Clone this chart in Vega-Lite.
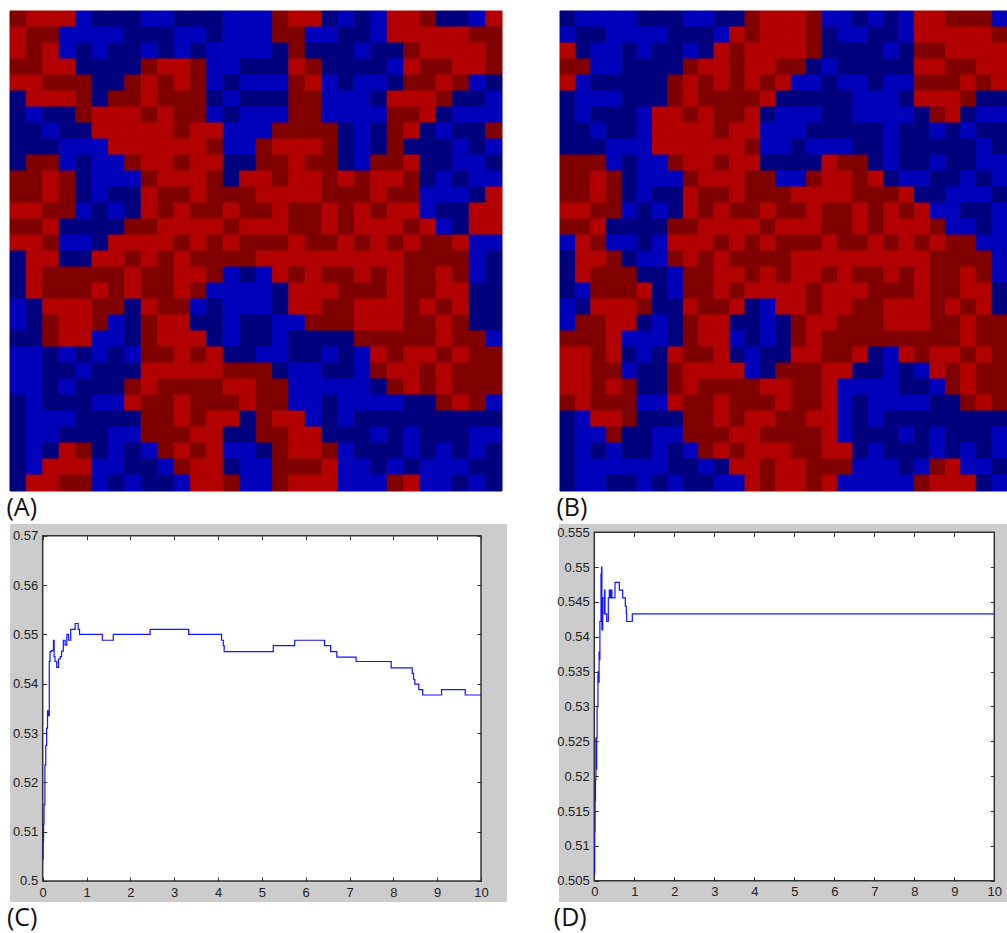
{"$schema":"https://vega.github.io/schema/vega-lite/v6.json","background":"white","padding":{"left":6,"top":10,"right":0,"bottom":0},"config":{"view":{"stroke":null},"concat":{"spacing":0},"title":{"font":"Open Sans","fontSize":25,"fontWeight":"normal","color":"#111","anchor":"start","orient":"bottom"}},"vconcat":[{"hconcat":[{"title":{"text":"(A)","dx":-3,"offset":4},"width":492,"height":480,"data":{"values":[
{"c":0,"r":0,"v":2},{"c":1,"r":0,"v":3},{"c":2,"r":0,"v":3},{"c":3,"r":0,"v":3},{"c":4,"r":0,"v":1},{"c":5,"r":0,"v":0},{"c":6,"r":0,"v":0},{"c":7,"r":0,"v":0},{"c":8,"r":0,"v":1},{"c":9,"r":0,"v":1},{"c":10,"r":0,"v":0},{"c":11,"r":0,"v":0},{"c":12,"r":0,"v":0},{"c":13,"r":0,"v":1},{"c":14,"r":0,"v":1},{"c":15,"r":0,"v":1},{"c":16,"r":0,"v":2},{"c":17,"r":0,"v":3},{"c":18,"r":0,"v":3},{"c":19,"r":0,"v":0},{"c":20,"r":0,"v":1},{"c":21,"r":0,"v":0},{"c":22,"r":0,"v":1},{"c":23,"r":0,"v":3},{"c":24,"r":0,"v":3},{"c":25,"r":0,"v":2},{"c":26,"r":0,"v":0},{"c":27,"r":0,"v":0},{"c":28,"r":0,"v":1},{"c":29,"r":0,"v":3},
{"c":0,"r":1,"v":3},{"c":1,"r":1,"v":2},{"c":2,"r":1,"v":2},{"c":3,"r":1,"v":1},{"c":4,"r":1,"v":1},{"c":5,"r":1,"v":1},{"c":6,"r":1,"v":1},{"c":7,"r":1,"v":0},{"c":8,"r":1,"v":0},{"c":9,"r":1,"v":0},{"c":10,"r":1,"v":1},{"c":11,"r":1,"v":1},{"c":12,"r":1,"v":0},{"c":13,"r":1,"v":1},{"c":14,"r":1,"v":1},{"c":15,"r":1,"v":1},{"c":16,"r":1,"v":2},{"c":17,"r":1,"v":2},{"c":18,"r":1,"v":1},{"c":19,"r":1,"v":1},{"c":20,"r":1,"v":0},{"c":21,"r":1,"v":0},{"c":22,"r":1,"v":1},{"c":23,"r":1,"v":3},{"c":24,"r":1,"v":3},{"c":25,"r":1,"v":3},{"c":26,"r":1,"v":3},{"c":27,"r":1,"v":3},{"c":28,"r":1,"v":2},{"c":29,"r":1,"v":2},
{"c":0,"r":2,"v":3},{"c":1,"r":2,"v":2},{"c":2,"r":2,"v":3},{"c":3,"r":2,"v":1},{"c":4,"r":2,"v":0},{"c":5,"r":2,"v":1},{"c":6,"r":2,"v":0},{"c":7,"r":2,"v":0},{"c":8,"r":2,"v":1},{"c":9,"r":2,"v":0},{"c":10,"r":2,"v":1},{"c":11,"r":2,"v":0},{"c":12,"r":2,"v":1},{"c":13,"r":2,"v":1},{"c":14,"r":2,"v":1},{"c":15,"r":2,"v":1},{"c":16,"r":2,"v":0},{"c":17,"r":2,"v":2},{"c":18,"r":2,"v":0},{"c":19,"r":2,"v":0},{"c":20,"r":2,"v":0},{"c":21,"r":2,"v":1},{"c":22,"r":2,"v":0},{"c":23,"r":2,"v":0},{"c":24,"r":2,"v":2},{"c":25,"r":2,"v":3},{"c":26,"r":2,"v":3},{"c":27,"r":2,"v":3},{"c":28,"r":2,"v":3},{"c":29,"r":2,"v":2},
{"c":0,"r":3,"v":2},{"c":1,"r":3,"v":2},{"c":2,"r":3,"v":3},{"c":3,"r":3,"v":3},{"c":4,"r":3,"v":0},{"c":5,"r":3,"v":0},{"c":6,"r":3,"v":0},{"c":7,"r":3,"v":0},{"c":8,"r":3,"v":2},{"c":9,"r":3,"v":3},{"c":10,"r":3,"v":3},{"c":11,"r":3,"v":2},{"c":12,"r":3,"v":1},{"c":13,"r":3,"v":1},{"c":14,"r":3,"v":0},{"c":15,"r":3,"v":0},{"c":16,"r":3,"v":0},{"c":17,"r":3,"v":3},{"c":18,"r":3,"v":2},{"c":19,"r":3,"v":0},{"c":20,"r":3,"v":0},{"c":21,"r":3,"v":0},{"c":22,"r":3,"v":0},{"c":23,"r":3,"v":1},{"c":24,"r":3,"v":3},{"c":25,"r":3,"v":2},{"c":26,"r":3,"v":2},{"c":27,"r":3,"v":3},{"c":28,"r":3,"v":3},{"c":29,"r":3,"v":2},
{"c":0,"r":4,"v":3},{"c":1,"r":4,"v":3},{"c":2,"r":4,"v":2},{"c":3,"r":4,"v":2},{"c":4,"r":4,"v":2},{"c":5,"r":4,"v":0},{"c":6,"r":4,"v":0},{"c":7,"r":4,"v":2},{"c":8,"r":4,"v":3},{"c":9,"r":4,"v":2},{"c":10,"r":4,"v":3},{"c":11,"r":4,"v":2},{"c":12,"r":4,"v":1},{"c":13,"r":4,"v":0},{"c":14,"r":4,"v":1},{"c":15,"r":4,"v":1},{"c":16,"r":4,"v":1},{"c":17,"r":4,"v":2},{"c":18,"r":4,"v":3},{"c":19,"r":4,"v":1},{"c":20,"r":4,"v":0},{"c":21,"r":4,"v":1},{"c":22,"r":4,"v":1},{"c":23,"r":4,"v":0},{"c":24,"r":4,"v":2},{"c":25,"r":4,"v":2},{"c":26,"r":4,"v":3},{"c":27,"r":4,"v":2},{"c":28,"r":4,"v":1},{"c":29,"r":4,"v":0},
{"c":0,"r":5,"v":0},{"c":1,"r":5,"v":3},{"c":2,"r":5,"v":3},{"c":3,"r":5,"v":3},{"c":4,"r":5,"v":2},{"c":5,"r":5,"v":0},{"c":6,"r":5,"v":2},{"c":7,"r":5,"v":2},{"c":8,"r":5,"v":3},{"c":9,"r":5,"v":2},{"c":10,"r":5,"v":2},{"c":11,"r":5,"v":2},{"c":12,"r":5,"v":0},{"c":13,"r":5,"v":1},{"c":14,"r":5,"v":0},{"c":15,"r":5,"v":0},{"c":16,"r":5,"v":0},{"c":17,"r":5,"v":2},{"c":18,"r":5,"v":2},{"c":19,"r":5,"v":1},{"c":20,"r":5,"v":1},{"c":21,"r":5,"v":1},{"c":22,"r":5,"v":0},{"c":23,"r":5,"v":3},{"c":24,"r":5,"v":3},{"c":25,"r":5,"v":3},{"c":26,"r":5,"v":2},{"c":27,"r":5,"v":0},{"c":28,"r":5,"v":0},{"c":29,"r":5,"v":1},
{"c":0,"r":6,"v":0},{"c":1,"r":6,"v":1},{"c":2,"r":6,"v":0},{"c":3,"r":6,"v":0},{"c":4,"r":6,"v":2},{"c":5,"r":6,"v":3},{"c":6,"r":6,"v":3},{"c":7,"r":6,"v":3},{"c":8,"r":6,"v":2},{"c":9,"r":6,"v":3},{"c":10,"r":6,"v":2},{"c":11,"r":6,"v":2},{"c":12,"r":6,"v":1},{"c":13,"r":6,"v":0},{"c":14,"r":6,"v":1},{"c":15,"r":6,"v":1},{"c":16,"r":6,"v":1},{"c":17,"r":6,"v":2},{"c":18,"r":6,"v":2},{"c":19,"r":6,"v":1},{"c":20,"r":6,"v":1},{"c":21,"r":6,"v":1},{"c":22,"r":6,"v":1},{"c":23,"r":6,"v":2},{"c":24,"r":6,"v":2},{"c":25,"r":6,"v":3},{"c":26,"r":6,"v":0},{"c":27,"r":6,"v":1},{"c":28,"r":6,"v":1},{"c":29,"r":6,"v":1},
{"c":0,"r":7,"v":0},{"c":1,"r":7,"v":0},{"c":2,"r":7,"v":1},{"c":3,"r":7,"v":0},{"c":4,"r":7,"v":0},{"c":5,"r":7,"v":3},{"c":6,"r":7,"v":3},{"c":7,"r":7,"v":3},{"c":8,"r":7,"v":3},{"c":9,"r":7,"v":3},{"c":10,"r":7,"v":2},{"c":11,"r":7,"v":3},{"c":12,"r":7,"v":3},{"c":13,"r":7,"v":1},{"c":14,"r":7,"v":1},{"c":15,"r":7,"v":1},{"c":16,"r":7,"v":2},{"c":17,"r":7,"v":2},{"c":18,"r":7,"v":2},{"c":19,"r":7,"v":2},{"c":20,"r":7,"v":0},{"c":21,"r":7,"v":1},{"c":22,"r":7,"v":0},{"c":23,"r":7,"v":2},{"c":24,"r":7,"v":3},{"c":25,"r":7,"v":0},{"c":26,"r":7,"v":1},{"c":27,"r":7,"v":0},{"c":28,"r":7,"v":0},{"c":29,"r":7,"v":2},
{"c":0,"r":8,"v":0},{"c":1,"r":8,"v":0},{"c":2,"r":8,"v":0},{"c":3,"r":8,"v":1},{"c":4,"r":8,"v":1},{"c":5,"r":8,"v":1},{"c":6,"r":8,"v":3},{"c":7,"r":8,"v":3},{"c":8,"r":8,"v":3},{"c":9,"r":8,"v":3},{"c":10,"r":8,"v":3},{"c":11,"r":8,"v":3},{"c":12,"r":8,"v":2},{"c":13,"r":8,"v":1},{"c":14,"r":8,"v":1},{"c":15,"r":8,"v":2},{"c":16,"r":8,"v":3},{"c":17,"r":8,"v":3},{"c":18,"r":8,"v":3},{"c":19,"r":8,"v":2},{"c":20,"r":8,"v":0},{"c":21,"r":8,"v":1},{"c":22,"r":8,"v":0},{"c":23,"r":8,"v":2},{"c":24,"r":8,"v":0},{"c":25,"r":8,"v":0},{"c":26,"r":8,"v":0},{"c":27,"r":8,"v":1},{"c":28,"r":8,"v":0},{"c":29,"r":8,"v":1},
{"c":0,"r":9,"v":0},{"c":1,"r":9,"v":2},{"c":2,"r":9,"v":2},{"c":3,"r":9,"v":1},{"c":4,"r":9,"v":0},{"c":5,"r":9,"v":1},{"c":6,"r":9,"v":1},{"c":7,"r":9,"v":2},{"c":8,"r":9,"v":3},{"c":9,"r":9,"v":3},{"c":10,"r":9,"v":2},{"c":11,"r":9,"v":3},{"c":12,"r":9,"v":3},{"c":13,"r":9,"v":0},{"c":14,"r":9,"v":0},{"c":15,"r":9,"v":2},{"c":16,"r":9,"v":2},{"c":17,"r":9,"v":3},{"c":18,"r":9,"v":2},{"c":19,"r":9,"v":2},{"c":20,"r":9,"v":0},{"c":21,"r":9,"v":1},{"c":22,"r":9,"v":2},{"c":23,"r":9,"v":2},{"c":24,"r":9,"v":3},{"c":25,"r":9,"v":0},{"c":26,"r":9,"v":0},{"c":27,"r":9,"v":1},{"c":28,"r":9,"v":1},{"c":29,"r":9,"v":0},
{"c":0,"r":10,"v":2},{"c":1,"r":10,"v":2},{"c":2,"r":10,"v":3},{"c":3,"r":10,"v":2},{"c":4,"r":10,"v":0},{"c":5,"r":10,"v":1},{"c":6,"r":10,"v":1},{"c":7,"r":10,"v":1},{"c":8,"r":10,"v":2},{"c":9,"r":10,"v":3},{"c":10,"r":10,"v":3},{"c":11,"r":10,"v":3},{"c":12,"r":10,"v":2},{"c":13,"r":10,"v":0},{"c":14,"r":10,"v":3},{"c":15,"r":10,"v":3},{"c":16,"r":10,"v":2},{"c":17,"r":10,"v":3},{"c":18,"r":10,"v":3},{"c":19,"r":10,"v":2},{"c":20,"r":10,"v":3},{"c":21,"r":10,"v":2},{"c":22,"r":10,"v":3},{"c":23,"r":10,"v":3},{"c":24,"r":10,"v":2},{"c":25,"r":10,"v":0},{"c":26,"r":10,"v":1},{"c":27,"r":10,"v":0},{"c":28,"r":10,"v":1},{"c":29,"r":10,"v":1},
{"c":0,"r":11,"v":2},{"c":1,"r":11,"v":2},{"c":2,"r":11,"v":3},{"c":3,"r":11,"v":2},{"c":4,"r":11,"v":0},{"c":5,"r":11,"v":1},{"c":6,"r":11,"v":0},{"c":7,"r":11,"v":0},{"c":8,"r":11,"v":3},{"c":9,"r":11,"v":2},{"c":10,"r":11,"v":2},{"c":11,"r":11,"v":3},{"c":12,"r":11,"v":2},{"c":13,"r":11,"v":2},{"c":14,"r":11,"v":2},{"c":15,"r":11,"v":3},{"c":16,"r":11,"v":3},{"c":17,"r":11,"v":3},{"c":18,"r":11,"v":3},{"c":19,"r":11,"v":2},{"c":20,"r":11,"v":2},{"c":21,"r":11,"v":2},{"c":22,"r":11,"v":3},{"c":23,"r":11,"v":2},{"c":24,"r":11,"v":2},{"c":25,"r":11,"v":1},{"c":26,"r":11,"v":1},{"c":27,"r":11,"v":1},{"c":28,"r":11,"v":0},{"c":29,"r":11,"v":3},
{"c":0,"r":12,"v":3},{"c":1,"r":12,"v":3},{"c":2,"r":12,"v":2},{"c":3,"r":12,"v":2},{"c":4,"r":12,"v":1},{"c":5,"r":12,"v":0},{"c":6,"r":12,"v":1},{"c":7,"r":12,"v":0},{"c":8,"r":12,"v":3},{"c":9,"r":12,"v":2},{"c":10,"r":12,"v":3},{"c":11,"r":12,"v":2},{"c":12,"r":12,"v":2},{"c":13,"r":12,"v":3},{"c":14,"r":12,"v":2},{"c":15,"r":12,"v":2},{"c":16,"r":12,"v":3},{"c":17,"r":12,"v":2},{"c":18,"r":12,"v":2},{"c":19,"r":12,"v":3},{"c":20,"r":12,"v":2},{"c":21,"r":12,"v":3},{"c":22,"r":12,"v":2},{"c":23,"r":12,"v":3},{"c":24,"r":12,"v":3},{"c":25,"r":12,"v":1},{"c":26,"r":12,"v":0},{"c":27,"r":12,"v":0},{"c":28,"r":12,"v":3},{"c":29,"r":12,"v":3},
{"c":0,"r":13,"v":2},{"c":1,"r":13,"v":2},{"c":2,"r":13,"v":3},{"c":3,"r":13,"v":0},{"c":4,"r":13,"v":0},{"c":5,"r":13,"v":0},{"c":6,"r":13,"v":0},{"c":7,"r":13,"v":2},{"c":8,"r":13,"v":2},{"c":9,"r":13,"v":3},{"c":10,"r":13,"v":3},{"c":11,"r":13,"v":3},{"c":12,"r":13,"v":3},{"c":13,"r":13,"v":2},{"c":14,"r":13,"v":3},{"c":15,"r":13,"v":3},{"c":16,"r":13,"v":3},{"c":17,"r":13,"v":2},{"c":18,"r":13,"v":2},{"c":19,"r":13,"v":3},{"c":20,"r":13,"v":2},{"c":21,"r":13,"v":3},{"c":22,"r":13,"v":3},{"c":23,"r":13,"v":3},{"c":24,"r":13,"v":2},{"c":25,"r":13,"v":3},{"c":26,"r":13,"v":1},{"c":27,"r":13,"v":0},{"c":28,"r":13,"v":3},{"c":29,"r":13,"v":3},
{"c":0,"r":14,"v":3},{"c":1,"r":14,"v":3},{"c":2,"r":14,"v":2},{"c":3,"r":14,"v":1},{"c":4,"r":14,"v":1},{"c":5,"r":14,"v":0},{"c":6,"r":14,"v":3},{"c":7,"r":14,"v":3},{"c":8,"r":14,"v":3},{"c":9,"r":14,"v":3},{"c":10,"r":14,"v":2},{"c":11,"r":14,"v":3},{"c":12,"r":14,"v":2},{"c":13,"r":14,"v":3},{"c":14,"r":14,"v":2},{"c":15,"r":14,"v":2},{"c":16,"r":14,"v":2},{"c":17,"r":14,"v":3},{"c":18,"r":14,"v":2},{"c":19,"r":14,"v":2},{"c":20,"r":14,"v":3},{"c":21,"r":14,"v":2},{"c":22,"r":14,"v":3},{"c":23,"r":14,"v":2},{"c":24,"r":14,"v":3},{"c":25,"r":14,"v":2},{"c":26,"r":14,"v":2},{"c":27,"r":14,"v":3},{"c":28,"r":14,"v":1},{"c":29,"r":14,"v":1},
{"c":0,"r":15,"v":0},{"c":1,"r":15,"v":3},{"c":2,"r":15,"v":3},{"c":3,"r":15,"v":0},{"c":4,"r":15,"v":0},{"c":5,"r":15,"v":3},{"c":6,"r":15,"v":3},{"c":7,"r":15,"v":2},{"c":8,"r":15,"v":3},{"c":9,"r":15,"v":2},{"c":10,"r":15,"v":3},{"c":11,"r":15,"v":2},{"c":12,"r":15,"v":2},{"c":13,"r":15,"v":2},{"c":14,"r":15,"v":2},{"c":15,"r":15,"v":3},{"c":16,"r":15,"v":3},{"c":17,"r":15,"v":3},{"c":18,"r":15,"v":3},{"c":19,"r":15,"v":3},{"c":20,"r":15,"v":3},{"c":21,"r":15,"v":3},{"c":22,"r":15,"v":3},{"c":23,"r":15,"v":3},{"c":24,"r":15,"v":2},{"c":25,"r":15,"v":2},{"c":26,"r":15,"v":2},{"c":27,"r":15,"v":2},{"c":28,"r":15,"v":1},{"c":29,"r":15,"v":0},
{"c":0,"r":16,"v":0},{"c":1,"r":16,"v":3},{"c":2,"r":16,"v":2},{"c":3,"r":16,"v":2},{"c":4,"r":16,"v":2},{"c":5,"r":16,"v":2},{"c":6,"r":16,"v":2},{"c":7,"r":16,"v":3},{"c":8,"r":16,"v":2},{"c":9,"r":16,"v":2},{"c":10,"r":16,"v":3},{"c":11,"r":16,"v":3},{"c":12,"r":16,"v":2},{"c":13,"r":16,"v":1},{"c":14,"r":16,"v":0},{"c":15,"r":16,"v":1},{"c":16,"r":16,"v":3},{"c":17,"r":16,"v":2},{"c":18,"r":16,"v":3},{"c":19,"r":16,"v":2},{"c":20,"r":16,"v":2},{"c":21,"r":16,"v":3},{"c":22,"r":16,"v":2},{"c":23,"r":16,"v":3},{"c":24,"r":16,"v":2},{"c":25,"r":16,"v":2},{"c":26,"r":16,"v":3},{"c":27,"r":16,"v":2},{"c":28,"r":16,"v":1},{"c":29,"r":16,"v":0},
{"c":0,"r":17,"v":0},{"c":1,"r":17,"v":3},{"c":2,"r":17,"v":2},{"c":3,"r":17,"v":2},{"c":4,"r":17,"v":2},{"c":5,"r":17,"v":3},{"c":6,"r":17,"v":2},{"c":7,"r":17,"v":3},{"c":8,"r":17,"v":2},{"c":9,"r":17,"v":2},{"c":10,"r":17,"v":3},{"c":11,"r":17,"v":2},{"c":12,"r":17,"v":1},{"c":13,"r":17,"v":1},{"c":14,"r":17,"v":1},{"c":15,"r":17,"v":1},{"c":16,"r":17,"v":0},{"c":17,"r":17,"v":3},{"c":18,"r":17,"v":3},{"c":19,"r":17,"v":3},{"c":20,"r":17,"v":2},{"c":21,"r":17,"v":2},{"c":22,"r":17,"v":2},{"c":23,"r":17,"v":3},{"c":24,"r":17,"v":2},{"c":25,"r":17,"v":2},{"c":26,"r":17,"v":3},{"c":27,"r":17,"v":3},{"c":28,"r":17,"v":0},{"c":29,"r":17,"v":0},
{"c":0,"r":18,"v":1},{"c":1,"r":18,"v":0},{"c":2,"r":18,"v":3},{"c":3,"r":18,"v":3},{"c":4,"r":18,"v":3},{"c":5,"r":18,"v":2},{"c":6,"r":18,"v":2},{"c":7,"r":18,"v":0},{"c":8,"r":18,"v":3},{"c":9,"r":18,"v":2},{"c":10,"r":18,"v":2},{"c":11,"r":18,"v":1},{"c":12,"r":18,"v":0},{"c":13,"r":18,"v":1},{"c":14,"r":18,"v":1},{"c":15,"r":18,"v":1},{"c":16,"r":18,"v":0},{"c":17,"r":18,"v":3},{"c":18,"r":18,"v":3},{"c":19,"r":18,"v":2},{"c":20,"r":18,"v":2},{"c":21,"r":18,"v":3},{"c":22,"r":18,"v":3},{"c":23,"r":18,"v":3},{"c":24,"r":18,"v":2},{"c":25,"r":18,"v":3},{"c":26,"r":18,"v":2},{"c":27,"r":18,"v":3},{"c":28,"r":18,"v":0},{"c":29,"r":18,"v":0},
{"c":0,"r":19,"v":1},{"c":1,"r":19,"v":0},{"c":2,"r":19,"v":2},{"c":3,"r":19,"v":3},{"c":4,"r":19,"v":3},{"c":5,"r":19,"v":2},{"c":6,"r":19,"v":1},{"c":7,"r":19,"v":0},{"c":8,"r":19,"v":2},{"c":9,"r":19,"v":3},{"c":10,"r":19,"v":3},{"c":11,"r":19,"v":0},{"c":12,"r":19,"v":0},{"c":13,"r":19,"v":1},{"c":14,"r":19,"v":0},{"c":15,"r":19,"v":0},{"c":16,"r":19,"v":1},{"c":17,"r":19,"v":1},{"c":18,"r":19,"v":2},{"c":19,"r":19,"v":2},{"c":20,"r":19,"v":2},{"c":21,"r":19,"v":3},{"c":22,"r":19,"v":3},{"c":23,"r":19,"v":3},{"c":24,"r":19,"v":2},{"c":25,"r":19,"v":2},{"c":26,"r":19,"v":3},{"c":27,"r":19,"v":2},{"c":28,"r":19,"v":0},{"c":29,"r":19,"v":0},
{"c":0,"r":20,"v":0},{"c":1,"r":20,"v":0},{"c":2,"r":20,"v":2},{"c":3,"r":20,"v":3},{"c":4,"r":20,"v":3},{"c":5,"r":20,"v":1},{"c":6,"r":20,"v":1},{"c":7,"r":20,"v":0},{"c":8,"r":20,"v":2},{"c":9,"r":20,"v":3},{"c":10,"r":20,"v":3},{"c":11,"r":20,"v":3},{"c":12,"r":20,"v":0},{"c":13,"r":20,"v":1},{"c":14,"r":20,"v":0},{"c":15,"r":20,"v":0},{"c":16,"r":20,"v":1},{"c":17,"r":20,"v":0},{"c":18,"r":20,"v":0},{"c":19,"r":20,"v":0},{"c":20,"r":20,"v":0},{"c":21,"r":20,"v":2},{"c":22,"r":20,"v":2},{"c":23,"r":20,"v":2},{"c":24,"r":20,"v":2},{"c":25,"r":20,"v":2},{"c":26,"r":20,"v":3},{"c":27,"r":20,"v":2},{"c":28,"r":20,"v":2},{"c":29,"r":20,"v":1},
{"c":0,"r":21,"v":1},{"c":1,"r":21,"v":1},{"c":2,"r":21,"v":0},{"c":3,"r":21,"v":1},{"c":4,"r":21,"v":0},{"c":5,"r":21,"v":1},{"c":6,"r":21,"v":0},{"c":7,"r":21,"v":1},{"c":8,"r":21,"v":2},{"c":9,"r":21,"v":2},{"c":10,"r":21,"v":3},{"c":11,"r":21,"v":2},{"c":12,"r":21,"v":3},{"c":13,"r":21,"v":0},{"c":14,"r":21,"v":0},{"c":15,"r":21,"v":1},{"c":16,"r":21,"v":1},{"c":17,"r":21,"v":0},{"c":18,"r":21,"v":0},{"c":19,"r":21,"v":1},{"c":20,"r":21,"v":0},{"c":21,"r":21,"v":1},{"c":22,"r":21,"v":3},{"c":23,"r":21,"v":2},{"c":24,"r":21,"v":3},{"c":25,"r":21,"v":3},{"c":26,"r":21,"v":2},{"c":27,"r":21,"v":3},{"c":28,"r":21,"v":2},{"c":29,"r":21,"v":2},
{"c":0,"r":22,"v":1},{"c":1,"r":22,"v":1},{"c":2,"r":22,"v":0},{"c":3,"r":22,"v":0},{"c":4,"r":22,"v":1},{"c":5,"r":22,"v":0},{"c":6,"r":22,"v":0},{"c":7,"r":22,"v":0},{"c":8,"r":22,"v":3},{"c":9,"r":22,"v":3},{"c":10,"r":22,"v":3},{"c":11,"r":22,"v":3},{"c":12,"r":22,"v":3},{"c":13,"r":22,"v":2},{"c":14,"r":22,"v":2},{"c":15,"r":22,"v":2},{"c":16,"r":22,"v":0},{"c":17,"r":22,"v":1},{"c":18,"r":22,"v":1},{"c":19,"r":22,"v":0},{"c":20,"r":22,"v":0},{"c":21,"r":22,"v":1},{"c":22,"r":22,"v":2},{"c":23,"r":22,"v":3},{"c":24,"r":22,"v":3},{"c":25,"r":22,"v":2},{"c":26,"r":22,"v":3},{"c":27,"r":22,"v":2},{"c":28,"r":22,"v":2},{"c":29,"r":22,"v":2},
{"c":0,"r":23,"v":1},{"c":1,"r":23,"v":1},{"c":2,"r":23,"v":0},{"c":3,"r":23,"v":1},{"c":4,"r":23,"v":0},{"c":5,"r":23,"v":0},{"c":6,"r":23,"v":0},{"c":7,"r":23,"v":2},{"c":8,"r":23,"v":3},{"c":9,"r":23,"v":2},{"c":10,"r":23,"v":2},{"c":11,"r":23,"v":2},{"c":12,"r":23,"v":2},{"c":13,"r":23,"v":3},{"c":14,"r":23,"v":3},{"c":15,"r":23,"v":2},{"c":16,"r":23,"v":2},{"c":17,"r":23,"v":1},{"c":18,"r":23,"v":1},{"c":19,"r":23,"v":1},{"c":20,"r":23,"v":1},{"c":21,"r":23,"v":1},{"c":22,"r":23,"v":0},{"c":23,"r":23,"v":2},{"c":24,"r":23,"v":3},{"c":25,"r":23,"v":2},{"c":26,"r":23,"v":3},{"c":27,"r":23,"v":2},{"c":28,"r":23,"v":2},{"c":29,"r":23,"v":2},
{"c":0,"r":24,"v":0},{"c":1,"r":24,"v":1},{"c":2,"r":24,"v":0},{"c":3,"r":24,"v":0},{"c":4,"r":24,"v":0},{"c":5,"r":24,"v":1},{"c":6,"r":24,"v":1},{"c":7,"r":24,"v":3},{"c":8,"r":24,"v":2},{"c":9,"r":24,"v":2},{"c":10,"r":24,"v":3},{"c":11,"r":24,"v":2},{"c":12,"r":24,"v":2},{"c":13,"r":24,"v":2},{"c":14,"r":24,"v":3},{"c":15,"r":24,"v":2},{"c":16,"r":24,"v":2},{"c":17,"r":24,"v":1},{"c":18,"r":24,"v":1},{"c":19,"r":24,"v":0},{"c":20,"r":24,"v":1},{"c":21,"r":24,"v":1},{"c":22,"r":24,"v":1},{"c":23,"r":24,"v":1},{"c":24,"r":24,"v":0},{"c":25,"r":24,"v":0},{"c":26,"r":24,"v":2},{"c":27,"r":24,"v":3},{"c":28,"r":24,"v":2},{"c":29,"r":24,"v":1},
{"c":0,"r":25,"v":0},{"c":1,"r":25,"v":1},{"c":2,"r":25,"v":1},{"c":3,"r":25,"v":1},{"c":4,"r":25,"v":0},{"c":5,"r":25,"v":0},{"c":6,"r":25,"v":0},{"c":7,"r":25,"v":0},{"c":8,"r":25,"v":2},{"c":9,"r":25,"v":2},{"c":10,"r":25,"v":3},{"c":11,"r":25,"v":2},{"c":12,"r":25,"v":3},{"c":13,"r":25,"v":3},{"c":14,"r":25,"v":0},{"c":15,"r":25,"v":2},{"c":16,"r":25,"v":3},{"c":17,"r":25,"v":3},{"c":18,"r":25,"v":1},{"c":19,"r":25,"v":0},{"c":20,"r":25,"v":1},{"c":21,"r":25,"v":0},{"c":22,"r":25,"v":0},{"c":23,"r":25,"v":0},{"c":24,"r":25,"v":0},{"c":25,"r":25,"v":0},{"c":26,"r":25,"v":0},{"c":27,"r":25,"v":0},{"c":28,"r":25,"v":0},{"c":29,"r":25,"v":0},
{"c":0,"r":26,"v":0},{"c":1,"r":26,"v":1},{"c":2,"r":26,"v":1},{"c":3,"r":26,"v":0},{"c":4,"r":26,"v":0},{"c":5,"r":26,"v":0},{"c":6,"r":26,"v":1},{"c":7,"r":26,"v":1},{"c":8,"r":26,"v":2},{"c":9,"r":26,"v":2},{"c":10,"r":26,"v":2},{"c":11,"r":26,"v":3},{"c":12,"r":26,"v":3},{"c":13,"r":26,"v":0},{"c":14,"r":26,"v":0},{"c":15,"r":26,"v":2},{"c":16,"r":26,"v":2},{"c":17,"r":26,"v":3},{"c":18,"r":26,"v":3},{"c":19,"r":26,"v":0},{"c":20,"r":26,"v":0},{"c":21,"r":26,"v":0},{"c":22,"r":26,"v":1},{"c":23,"r":26,"v":0},{"c":24,"r":26,"v":1},{"c":25,"r":26,"v":0},{"c":26,"r":26,"v":0},{"c":27,"r":26,"v":0},{"c":28,"r":26,"v":1},{"c":29,"r":26,"v":1},
{"c":0,"r":27,"v":0},{"c":1,"r":27,"v":1},{"c":2,"r":27,"v":0},{"c":3,"r":27,"v":3},{"c":4,"r":27,"v":2},{"c":5,"r":27,"v":0},{"c":6,"r":27,"v":1},{"c":7,"r":27,"v":0},{"c":8,"r":27,"v":1},{"c":9,"r":27,"v":2},{"c":10,"r":27,"v":3},{"c":11,"r":27,"v":2},{"c":12,"r":27,"v":3},{"c":13,"r":27,"v":1},{"c":14,"r":27,"v":1},{"c":15,"r":27,"v":0},{"c":16,"r":27,"v":2},{"c":17,"r":27,"v":3},{"c":18,"r":27,"v":3},{"c":19,"r":27,"v":2},{"c":20,"r":27,"v":1},{"c":21,"r":27,"v":0},{"c":22,"r":27,"v":0},{"c":23,"r":27,"v":0},{"c":24,"r":27,"v":1},{"c":25,"r":27,"v":0},{"c":26,"r":27,"v":1},{"c":27,"r":27,"v":0},{"c":28,"r":27,"v":1},{"c":29,"r":27,"v":0},
{"c":0,"r":28,"v":0},{"c":1,"r":28,"v":1},{"c":2,"r":28,"v":3},{"c":3,"r":28,"v":3},{"c":4,"r":28,"v":3},{"c":5,"r":28,"v":1},{"c":6,"r":28,"v":1},{"c":7,"r":28,"v":0},{"c":8,"r":28,"v":0},{"c":9,"r":28,"v":1},{"c":10,"r":28,"v":2},{"c":11,"r":28,"v":3},{"c":12,"r":28,"v":3},{"c":13,"r":28,"v":0},{"c":14,"r":28,"v":1},{"c":15,"r":28,"v":1},{"c":16,"r":28,"v":2},{"c":17,"r":28,"v":2},{"c":18,"r":28,"v":2},{"c":19,"r":28,"v":3},{"c":20,"r":28,"v":1},{"c":21,"r":28,"v":1},{"c":22,"r":28,"v":0},{"c":23,"r":28,"v":1},{"c":24,"r":28,"v":0},{"c":25,"r":28,"v":1},{"c":26,"r":28,"v":1},{"c":27,"r":28,"v":1},{"c":28,"r":28,"v":0},{"c":29,"r":28,"v":0},
{"c":0,"r":29,"v":0},{"c":1,"r":29,"v":3},{"c":2,"r":29,"v":3},{"c":3,"r":29,"v":2},{"c":4,"r":29,"v":2},{"c":5,"r":29,"v":1},{"c":6,"r":29,"v":0},{"c":7,"r":29,"v":1},{"c":8,"r":29,"v":0},{"c":9,"r":29,"v":0},{"c":10,"r":29,"v":1},{"c":11,"r":29,"v":3},{"c":12,"r":29,"v":3},{"c":13,"r":29,"v":2},{"c":14,"r":29,"v":1},{"c":15,"r":29,"v":1},{"c":16,"r":29,"v":2},{"c":17,"r":29,"v":3},{"c":18,"r":29,"v":3},{"c":19,"r":29,"v":3},{"c":20,"r":29,"v":1},{"c":21,"r":29,"v":1},{"c":22,"r":29,"v":1},{"c":23,"r":29,"v":2},{"c":24,"r":29,"v":3},{"c":25,"r":29,"v":1},{"c":26,"r":29,"v":1},{"c":27,"r":29,"v":0},{"c":28,"r":29,"v":1},{"c":29,"r":29,"v":0}
]},"mark":{"type":"rect","strokeWidth":1,"opacity":1},"encoding":{"x":{"field":"c","type":"ordinal","axis":null},"y":{"field":"r","type":"ordinal","axis":null},"color":{"field":"v","type":"nominal","legend":null,"scale":{"domain":[0,1,2,3],"range":["#00007f","#0000bb","#800000","#b20000"]}},"stroke":{"field":"v","type":"nominal","legend":null,"scale":{"domain":[0,1,2,3],"range":["#00007f","#0000bb","#800000","#b20000"]}}}},{"title":{"text":"(B)","dx":-3,"offset":4},"width":447,"height":480,"data":{"values":[
{"c":0,"r":0,"v":0},{"c":1,"r":0,"v":1},{"c":2,"r":0,"v":1},{"c":3,"r":0,"v":1},{"c":4,"r":0,"v":1},{"c":5,"r":0,"v":0},{"c":6,"r":0,"v":0},{"c":7,"r":0,"v":0},{"c":8,"r":0,"v":1},{"c":9,"r":0,"v":1},{"c":10,"r":0,"v":0},{"c":11,"r":0,"v":0},{"c":12,"r":0,"v":2},{"c":13,"r":0,"v":3},{"c":14,"r":0,"v":3},{"c":15,"r":0,"v":3},{"c":16,"r":0,"v":2},{"c":17,"r":0,"v":1},{"c":18,"r":0,"v":1},{"c":19,"r":0,"v":0},{"c":20,"r":0,"v":1},{"c":21,"r":0,"v":0},{"c":22,"r":0,"v":1},{"c":23,"r":0,"v":3},{"c":24,"r":0,"v":3},{"c":25,"r":0,"v":2},{"c":26,"r":0,"v":2},{"c":27,"r":0,"v":2},{"c":28,"r":0,"v":1},
{"c":0,"r":1,"v":1},{"c":1,"r":1,"v":0},{"c":2,"r":1,"v":0},{"c":3,"r":1,"v":1},{"c":4,"r":1,"v":1},{"c":5,"r":1,"v":1},{"c":6,"r":1,"v":1},{"c":7,"r":1,"v":0},{"c":8,"r":1,"v":0},{"c":9,"r":1,"v":0},{"c":10,"r":1,"v":1},{"c":11,"r":1,"v":3},{"c":12,"r":1,"v":2},{"c":13,"r":1,"v":3},{"c":14,"r":1,"v":3},{"c":15,"r":1,"v":3},{"c":16,"r":1,"v":2},{"c":17,"r":1,"v":0},{"c":18,"r":1,"v":1},{"c":19,"r":1,"v":1},{"c":20,"r":1,"v":0},{"c":21,"r":1,"v":0},{"c":22,"r":1,"v":1},{"c":23,"r":1,"v":3},{"c":24,"r":1,"v":3},{"c":25,"r":1,"v":3},{"c":26,"r":1,"v":3},{"c":27,"r":1,"v":3},{"c":28,"r":1,"v":2},
{"c":0,"r":2,"v":3},{"c":1,"r":2,"v":0},{"c":2,"r":2,"v":1},{"c":3,"r":2,"v":1},{"c":4,"r":2,"v":0},{"c":5,"r":2,"v":1},{"c":6,"r":2,"v":0},{"c":7,"r":2,"v":0},{"c":8,"r":2,"v":1},{"c":9,"r":2,"v":0},{"c":10,"r":2,"v":3},{"c":11,"r":2,"v":2},{"c":12,"r":2,"v":3},{"c":13,"r":2,"v":3},{"c":14,"r":2,"v":3},{"c":15,"r":2,"v":3},{"c":16,"r":2,"v":2},{"c":17,"r":2,"v":0},{"c":18,"r":2,"v":0},{"c":19,"r":2,"v":0},{"c":20,"r":2,"v":0},{"c":21,"r":2,"v":1},{"c":22,"r":2,"v":0},{"c":23,"r":2,"v":2},{"c":24,"r":2,"v":2},{"c":25,"r":2,"v":3},{"c":26,"r":2,"v":3},{"c":27,"r":2,"v":3},{"c":28,"r":2,"v":3},
{"c":0,"r":3,"v":2},{"c":1,"r":3,"v":2},{"c":2,"r":3,"v":1},{"c":3,"r":3,"v":1},{"c":4,"r":3,"v":0},{"c":5,"r":3,"v":0},{"c":6,"r":3,"v":0},{"c":7,"r":3,"v":0},{"c":8,"r":3,"v":2},{"c":9,"r":3,"v":3},{"c":10,"r":3,"v":3},{"c":11,"r":3,"v":2},{"c":12,"r":3,"v":3},{"c":13,"r":3,"v":3},{"c":14,"r":3,"v":2},{"c":15,"r":3,"v":2},{"c":16,"r":3,"v":0},{"c":17,"r":3,"v":1},{"c":18,"r":3,"v":0},{"c":19,"r":3,"v":0},{"c":20,"r":3,"v":0},{"c":21,"r":3,"v":0},{"c":22,"r":3,"v":0},{"c":23,"r":3,"v":3},{"c":24,"r":3,"v":3},{"c":25,"r":3,"v":2},{"c":26,"r":3,"v":2},{"c":27,"r":3,"v":3},{"c":28,"r":3,"v":3},
{"c":0,"r":4,"v":3},{"c":1,"r":4,"v":1},{"c":2,"r":4,"v":0},{"c":3,"r":4,"v":0},{"c":4,"r":4,"v":0},{"c":5,"r":4,"v":0},{"c":6,"r":4,"v":0},{"c":7,"r":4,"v":2},{"c":8,"r":4,"v":3},{"c":9,"r":4,"v":2},{"c":10,"r":4,"v":3},{"c":11,"r":4,"v":2},{"c":12,"r":4,"v":3},{"c":13,"r":4,"v":2},{"c":14,"r":4,"v":3},{"c":15,"r":4,"v":1},{"c":16,"r":4,"v":1},{"c":17,"r":4,"v":0},{"c":18,"r":4,"v":1},{"c":19,"r":4,"v":1},{"c":20,"r":4,"v":0},{"c":21,"r":4,"v":1},{"c":22,"r":4,"v":1},{"c":23,"r":4,"v":2},{"c":24,"r":4,"v":2},{"c":25,"r":4,"v":2},{"c":26,"r":4,"v":3},{"c":27,"r":4,"v":2},{"c":28,"r":4,"v":3},
{"c":0,"r":5,"v":0},{"c":1,"r":5,"v":1},{"c":2,"r":5,"v":1},{"c":3,"r":5,"v":1},{"c":4,"r":5,"v":0},{"c":5,"r":5,"v":0},{"c":6,"r":5,"v":0},{"c":7,"r":5,"v":2},{"c":8,"r":5,"v":3},{"c":9,"r":5,"v":2},{"c":10,"r":5,"v":2},{"c":11,"r":5,"v":2},{"c":12,"r":5,"v":2},{"c":13,"r":5,"v":3},{"c":14,"r":5,"v":0},{"c":15,"r":5,"v":0},{"c":16,"r":5,"v":0},{"c":17,"r":5,"v":0},{"c":18,"r":5,"v":0},{"c":19,"r":5,"v":1},{"c":20,"r":5,"v":1},{"c":21,"r":5,"v":1},{"c":22,"r":5,"v":0},{"c":23,"r":5,"v":3},{"c":24,"r":5,"v":3},{"c":25,"r":5,"v":3},{"c":26,"r":5,"v":2},{"c":27,"r":5,"v":0},{"c":28,"r":5,"v":0},
{"c":0,"r":6,"v":0},{"c":1,"r":6,"v":1},{"c":2,"r":6,"v":0},{"c":3,"r":6,"v":0},{"c":4,"r":6,"v":0},{"c":5,"r":6,"v":1},{"c":6,"r":6,"v":3},{"c":7,"r":6,"v":3},{"c":8,"r":6,"v":2},{"c":9,"r":6,"v":3},{"c":10,"r":6,"v":2},{"c":11,"r":6,"v":2},{"c":12,"r":6,"v":3},{"c":13,"r":6,"v":0},{"c":14,"r":6,"v":1},{"c":15,"r":6,"v":1},{"c":16,"r":6,"v":1},{"c":17,"r":6,"v":0},{"c":18,"r":6,"v":0},{"c":19,"r":6,"v":1},{"c":20,"r":6,"v":1},{"c":21,"r":6,"v":1},{"c":22,"r":6,"v":1},{"c":23,"r":6,"v":0},{"c":24,"r":6,"v":2},{"c":25,"r":6,"v":3},{"c":26,"r":6,"v":0},{"c":27,"r":6,"v":1},{"c":28,"r":6,"v":1},
{"c":0,"r":7,"v":0},{"c":1,"r":7,"v":0},{"c":2,"r":7,"v":1},{"c":3,"r":7,"v":0},{"c":4,"r":7,"v":0},{"c":5,"r":7,"v":1},{"c":6,"r":7,"v":3},{"c":7,"r":7,"v":3},{"c":8,"r":7,"v":3},{"c":9,"r":7,"v":3},{"c":10,"r":7,"v":2},{"c":11,"r":7,"v":3},{"c":12,"r":7,"v":3},{"c":13,"r":7,"v":1},{"c":14,"r":7,"v":1},{"c":15,"r":7,"v":1},{"c":16,"r":7,"v":0},{"c":17,"r":7,"v":0},{"c":18,"r":7,"v":0},{"c":19,"r":7,"v":0},{"c":20,"r":7,"v":0},{"c":21,"r":7,"v":1},{"c":22,"r":7,"v":0},{"c":23,"r":7,"v":0},{"c":24,"r":7,"v":1},{"c":25,"r":7,"v":0},{"c":26,"r":7,"v":1},{"c":27,"r":7,"v":0},{"c":28,"r":7,"v":0},
{"c":0,"r":8,"v":0},{"c":1,"r":8,"v":0},{"c":2,"r":8,"v":0},{"c":3,"r":8,"v":1},{"c":4,"r":8,"v":1},{"c":5,"r":8,"v":1},{"c":6,"r":8,"v":3},{"c":7,"r":8,"v":3},{"c":8,"r":8,"v":3},{"c":9,"r":8,"v":3},{"c":10,"r":8,"v":3},{"c":11,"r":8,"v":3},{"c":12,"r":8,"v":2},{"c":13,"r":8,"v":1},{"c":14,"r":8,"v":1},{"c":15,"r":8,"v":0},{"c":16,"r":8,"v":1},{"c":17,"r":8,"v":1},{"c":18,"r":8,"v":1},{"c":19,"r":8,"v":0},{"c":20,"r":8,"v":0},{"c":21,"r":8,"v":1},{"c":22,"r":8,"v":0},{"c":23,"r":8,"v":0},{"c":24,"r":8,"v":0},{"c":25,"r":8,"v":0},{"c":26,"r":8,"v":0},{"c":27,"r":8,"v":1},{"c":28,"r":8,"v":0},
{"c":0,"r":9,"v":2},{"c":1,"r":9,"v":2},{"c":2,"r":9,"v":2},{"c":3,"r":9,"v":1},{"c":4,"r":9,"v":0},{"c":5,"r":9,"v":1},{"c":6,"r":9,"v":1},{"c":7,"r":9,"v":2},{"c":8,"r":9,"v":3},{"c":9,"r":9,"v":3},{"c":10,"r":9,"v":2},{"c":11,"r":9,"v":3},{"c":12,"r":9,"v":3},{"c":13,"r":9,"v":0},{"c":14,"r":9,"v":0},{"c":15,"r":9,"v":0},{"c":16,"r":9,"v":0},{"c":17,"r":9,"v":3},{"c":18,"r":9,"v":2},{"c":19,"r":9,"v":2},{"c":20,"r":9,"v":0},{"c":21,"r":9,"v":1},{"c":22,"r":9,"v":0},{"c":23,"r":9,"v":0},{"c":24,"r":9,"v":1},{"c":25,"r":9,"v":0},{"c":26,"r":9,"v":0},{"c":27,"r":9,"v":1},{"c":28,"r":9,"v":1},
{"c":0,"r":10,"v":2},{"c":1,"r":10,"v":2},{"c":2,"r":10,"v":3},{"c":3,"r":10,"v":2},{"c":4,"r":10,"v":0},{"c":5,"r":10,"v":1},{"c":6,"r":10,"v":1},{"c":7,"r":10,"v":1},{"c":8,"r":10,"v":2},{"c":9,"r":10,"v":3},{"c":10,"r":10,"v":3},{"c":11,"r":10,"v":3},{"c":12,"r":10,"v":2},{"c":13,"r":10,"v":2},{"c":14,"r":10,"v":1},{"c":15,"r":10,"v":1},{"c":16,"r":10,"v":2},{"c":17,"r":10,"v":3},{"c":18,"r":10,"v":3},{"c":19,"r":10,"v":2},{"c":20,"r":10,"v":3},{"c":21,"r":10,"v":0},{"c":22,"r":10,"v":1},{"c":23,"r":10,"v":1},{"c":24,"r":10,"v":0},{"c":25,"r":10,"v":0},{"c":26,"r":10,"v":1},{"c":27,"r":10,"v":0},{"c":28,"r":10,"v":1},
{"c":0,"r":11,"v":2},{"c":1,"r":11,"v":2},{"c":2,"r":11,"v":3},{"c":3,"r":11,"v":2},{"c":4,"r":11,"v":0},{"c":5,"r":11,"v":1},{"c":6,"r":11,"v":0},{"c":7,"r":11,"v":0},{"c":8,"r":11,"v":3},{"c":9,"r":11,"v":2},{"c":10,"r":11,"v":2},{"c":11,"r":11,"v":3},{"c":12,"r":11,"v":2},{"c":13,"r":11,"v":2},{"c":14,"r":11,"v":2},{"c":15,"r":11,"v":3},{"c":16,"r":11,"v":3},{"c":17,"r":11,"v":3},{"c":18,"r":11,"v":3},{"c":19,"r":11,"v":2},{"c":20,"r":11,"v":2},{"c":21,"r":11,"v":2},{"c":22,"r":11,"v":3},{"c":23,"r":11,"v":0},{"c":24,"r":11,"v":0},{"c":25,"r":11,"v":1},{"c":26,"r":11,"v":1},{"c":27,"r":11,"v":1},{"c":28,"r":11,"v":0},
{"c":0,"r":12,"v":3},{"c":1,"r":12,"v":3},{"c":2,"r":12,"v":2},{"c":3,"r":12,"v":2},{"c":4,"r":12,"v":1},{"c":5,"r":12,"v":0},{"c":6,"r":12,"v":1},{"c":7,"r":12,"v":0},{"c":8,"r":12,"v":3},{"c":9,"r":12,"v":2},{"c":10,"r":12,"v":3},{"c":11,"r":12,"v":2},{"c":12,"r":12,"v":2},{"c":13,"r":12,"v":3},{"c":14,"r":12,"v":2},{"c":15,"r":12,"v":2},{"c":16,"r":12,"v":3},{"c":17,"r":12,"v":2},{"c":18,"r":12,"v":2},{"c":19,"r":12,"v":3},{"c":20,"r":12,"v":2},{"c":21,"r":12,"v":3},{"c":22,"r":12,"v":2},{"c":23,"r":12,"v":3},{"c":24,"r":12,"v":1},{"c":25,"r":12,"v":1},{"c":26,"r":12,"v":0},{"c":27,"r":12,"v":0},{"c":28,"r":12,"v":1},
{"c":0,"r":13,"v":2},{"c":1,"r":13,"v":2},{"c":2,"r":13,"v":3},{"c":3,"r":13,"v":0},{"c":4,"r":13,"v":0},{"c":5,"r":13,"v":0},{"c":6,"r":13,"v":0},{"c":7,"r":13,"v":2},{"c":8,"r":13,"v":2},{"c":9,"r":13,"v":3},{"c":10,"r":13,"v":3},{"c":11,"r":13,"v":3},{"c":12,"r":13,"v":3},{"c":13,"r":13,"v":2},{"c":14,"r":13,"v":3},{"c":15,"r":13,"v":3},{"c":16,"r":13,"v":3},{"c":17,"r":13,"v":2},{"c":18,"r":13,"v":2},{"c":19,"r":13,"v":3},{"c":20,"r":13,"v":2},{"c":21,"r":13,"v":3},{"c":22,"r":13,"v":3},{"c":23,"r":13,"v":3},{"c":24,"r":13,"v":2},{"c":25,"r":13,"v":1},{"c":26,"r":13,"v":1},{"c":27,"r":13,"v":0},{"c":28,"r":13,"v":1},
{"c":0,"r":14,"v":1},{"c":1,"r":14,"v":3},{"c":2,"r":14,"v":2},{"c":3,"r":14,"v":1},{"c":4,"r":14,"v":1},{"c":5,"r":14,"v":0},{"c":6,"r":14,"v":1},{"c":7,"r":14,"v":3},{"c":8,"r":14,"v":3},{"c":9,"r":14,"v":3},{"c":10,"r":14,"v":2},{"c":11,"r":14,"v":3},{"c":12,"r":14,"v":2},{"c":13,"r":14,"v":3},{"c":14,"r":14,"v":2},{"c":15,"r":14,"v":2},{"c":16,"r":14,"v":2},{"c":17,"r":14,"v":3},{"c":18,"r":14,"v":2},{"c":19,"r":14,"v":2},{"c":20,"r":14,"v":3},{"c":21,"r":14,"v":2},{"c":22,"r":14,"v":3},{"c":23,"r":14,"v":2},{"c":24,"r":14,"v":3},{"c":25,"r":14,"v":2},{"c":26,"r":14,"v":2},{"c":27,"r":14,"v":1},{"c":28,"r":14,"v":1},
{"c":0,"r":15,"v":0},{"c":1,"r":15,"v":3},{"c":2,"r":15,"v":3},{"c":3,"r":15,"v":2},{"c":4,"r":15,"v":0},{"c":5,"r":15,"v":1},{"c":6,"r":15,"v":1},{"c":7,"r":15,"v":2},{"c":8,"r":15,"v":3},{"c":9,"r":15,"v":2},{"c":10,"r":15,"v":3},{"c":11,"r":15,"v":2},{"c":12,"r":15,"v":2},{"c":13,"r":15,"v":2},{"c":14,"r":15,"v":2},{"c":15,"r":15,"v":3},{"c":16,"r":15,"v":3},{"c":17,"r":15,"v":3},{"c":18,"r":15,"v":3},{"c":19,"r":15,"v":3},{"c":20,"r":15,"v":3},{"c":21,"r":15,"v":3},{"c":22,"r":15,"v":3},{"c":23,"r":15,"v":3},{"c":24,"r":15,"v":2},{"c":25,"r":15,"v":2},{"c":26,"r":15,"v":2},{"c":27,"r":15,"v":2},{"c":28,"r":15,"v":1},
{"c":0,"r":16,"v":0},{"c":1,"r":16,"v":3},{"c":2,"r":16,"v":2},{"c":3,"r":16,"v":2},{"c":4,"r":16,"v":2},{"c":5,"r":16,"v":0},{"c":6,"r":16,"v":0},{"c":7,"r":16,"v":1},{"c":8,"r":16,"v":2},{"c":9,"r":16,"v":2},{"c":10,"r":16,"v":3},{"c":11,"r":16,"v":3},{"c":12,"r":16,"v":2},{"c":13,"r":16,"v":3},{"c":14,"r":16,"v":2},{"c":15,"r":16,"v":3},{"c":16,"r":16,"v":3},{"c":17,"r":16,"v":2},{"c":18,"r":16,"v":3},{"c":19,"r":16,"v":2},{"c":20,"r":16,"v":2},{"c":21,"r":16,"v":3},{"c":22,"r":16,"v":2},{"c":23,"r":16,"v":3},{"c":24,"r":16,"v":2},{"c":25,"r":16,"v":2},{"c":26,"r":16,"v":3},{"c":27,"r":16,"v":2},{"c":28,"r":16,"v":1},
{"c":0,"r":17,"v":0},{"c":1,"r":17,"v":1},{"c":2,"r":17,"v":2},{"c":3,"r":17,"v":2},{"c":4,"r":17,"v":2},{"c":5,"r":17,"v":3},{"c":6,"r":17,"v":0},{"c":7,"r":17,"v":1},{"c":8,"r":17,"v":2},{"c":9,"r":17,"v":2},{"c":10,"r":17,"v":3},{"c":11,"r":17,"v":2},{"c":12,"r":17,"v":3},{"c":13,"r":17,"v":3},{"c":14,"r":17,"v":3},{"c":15,"r":17,"v":3},{"c":16,"r":17,"v":2},{"c":17,"r":17,"v":3},{"c":18,"r":17,"v":3},{"c":19,"r":17,"v":3},{"c":20,"r":17,"v":2},{"c":21,"r":17,"v":2},{"c":22,"r":17,"v":2},{"c":23,"r":17,"v":3},{"c":24,"r":17,"v":2},{"c":25,"r":17,"v":2},{"c":26,"r":17,"v":3},{"c":27,"r":17,"v":3},{"c":28,"r":17,"v":0},
{"c":0,"r":18,"v":1},{"c":1,"r":18,"v":0},{"c":2,"r":18,"v":3},{"c":3,"r":18,"v":3},{"c":4,"r":18,"v":3},{"c":5,"r":18,"v":2},{"c":6,"r":18,"v":0},{"c":7,"r":18,"v":0},{"c":8,"r":18,"v":3},{"c":9,"r":18,"v":2},{"c":10,"r":18,"v":2},{"c":11,"r":18,"v":3},{"c":12,"r":18,"v":0},{"c":13,"r":18,"v":1},{"c":14,"r":18,"v":3},{"c":15,"r":18,"v":3},{"c":16,"r":18,"v":2},{"c":17,"r":18,"v":3},{"c":18,"r":18,"v":3},{"c":19,"r":18,"v":2},{"c":20,"r":18,"v":2},{"c":21,"r":18,"v":3},{"c":22,"r":18,"v":3},{"c":23,"r":18,"v":3},{"c":24,"r":18,"v":2},{"c":25,"r":18,"v":3},{"c":26,"r":18,"v":2},{"c":27,"r":18,"v":3},{"c":28,"r":18,"v":0},
{"c":0,"r":19,"v":1},{"c":1,"r":19,"v":2},{"c":2,"r":19,"v":2},{"c":3,"r":19,"v":3},{"c":4,"r":19,"v":3},{"c":5,"r":19,"v":0},{"c":6,"r":19,"v":1},{"c":7,"r":19,"v":0},{"c":8,"r":19,"v":2},{"c":9,"r":19,"v":3},{"c":10,"r":19,"v":3},{"c":11,"r":19,"v":0},{"c":12,"r":19,"v":0},{"c":13,"r":19,"v":1},{"c":14,"r":19,"v":0},{"c":15,"r":19,"v":2},{"c":16,"r":19,"v":3},{"c":17,"r":19,"v":3},{"c":18,"r":19,"v":2},{"c":19,"r":19,"v":2},{"c":20,"r":19,"v":2},{"c":21,"r":19,"v":3},{"c":22,"r":19,"v":3},{"c":23,"r":19,"v":3},{"c":24,"r":19,"v":2},{"c":25,"r":19,"v":2},{"c":26,"r":19,"v":3},{"c":27,"r":19,"v":2},{"c":28,"r":19,"v":2},
{"c":0,"r":20,"v":2},{"c":1,"r":20,"v":2},{"c":2,"r":20,"v":2},{"c":3,"r":20,"v":3},{"c":4,"r":20,"v":1},{"c":5,"r":20,"v":1},{"c":6,"r":20,"v":1},{"c":7,"r":20,"v":0},{"c":8,"r":20,"v":2},{"c":9,"r":20,"v":3},{"c":10,"r":20,"v":3},{"c":11,"r":20,"v":1},{"c":12,"r":20,"v":0},{"c":13,"r":20,"v":1},{"c":14,"r":20,"v":0},{"c":15,"r":20,"v":2},{"c":16,"r":20,"v":3},{"c":17,"r":20,"v":2},{"c":18,"r":20,"v":2},{"c":19,"r":20,"v":2},{"c":20,"r":20,"v":2},{"c":21,"r":20,"v":2},{"c":22,"r":20,"v":2},{"c":23,"r":20,"v":2},{"c":24,"r":20,"v":2},{"c":25,"r":20,"v":2},{"c":26,"r":20,"v":3},{"c":27,"r":20,"v":2},{"c":28,"r":20,"v":2},
{"c":0,"r":21,"v":3},{"c":1,"r":21,"v":3},{"c":2,"r":21,"v":2},{"c":3,"r":21,"v":3},{"c":4,"r":21,"v":0},{"c":5,"r":21,"v":1},{"c":6,"r":21,"v":0},{"c":7,"r":21,"v":3},{"c":8,"r":21,"v":2},{"c":9,"r":21,"v":2},{"c":10,"r":21,"v":3},{"c":11,"r":21,"v":0},{"c":12,"r":21,"v":1},{"c":13,"r":21,"v":0},{"c":14,"r":21,"v":0},{"c":15,"r":21,"v":3},{"c":16,"r":21,"v":3},{"c":17,"r":21,"v":2},{"c":18,"r":21,"v":2},{"c":19,"r":21,"v":3},{"c":20,"r":21,"v":0},{"c":21,"r":21,"v":1},{"c":22,"r":21,"v":3},{"c":23,"r":21,"v":2},{"c":24,"r":21,"v":3},{"c":25,"r":21,"v":3},{"c":26,"r":21,"v":2},{"c":27,"r":21,"v":3},{"c":28,"r":21,"v":2},
{"c":0,"r":22,"v":3},{"c":1,"r":22,"v":3},{"c":2,"r":22,"v":2},{"c":3,"r":22,"v":2},{"c":4,"r":22,"v":1},{"c":5,"r":22,"v":0},{"c":6,"r":22,"v":0},{"c":7,"r":22,"v":2},{"c":8,"r":22,"v":3},{"c":9,"r":22,"v":3},{"c":10,"r":22,"v":3},{"c":11,"r":22,"v":3},{"c":12,"r":22,"v":1},{"c":13,"r":22,"v":0},{"c":14,"r":22,"v":2},{"c":15,"r":22,"v":2},{"c":16,"r":22,"v":2},{"c":17,"r":22,"v":3},{"c":18,"r":22,"v":3},{"c":19,"r":22,"v":0},{"c":20,"r":22,"v":0},{"c":21,"r":22,"v":1},{"c":22,"r":22,"v":0},{"c":23,"r":22,"v":1},{"c":24,"r":22,"v":3},{"c":25,"r":22,"v":2},{"c":26,"r":22,"v":3},{"c":27,"r":22,"v":2},{"c":28,"r":22,"v":2},
{"c":0,"r":23,"v":3},{"c":1,"r":23,"v":3},{"c":2,"r":23,"v":2},{"c":3,"r":23,"v":3},{"c":4,"r":23,"v":2},{"c":5,"r":23,"v":0},{"c":6,"r":23,"v":0},{"c":7,"r":23,"v":2},{"c":8,"r":23,"v":3},{"c":9,"r":23,"v":2},{"c":10,"r":23,"v":2},{"c":11,"r":23,"v":2},{"c":12,"r":23,"v":2},{"c":13,"r":23,"v":3},{"c":14,"r":23,"v":3},{"c":15,"r":23,"v":2},{"c":16,"r":23,"v":2},{"c":17,"r":23,"v":3},{"c":18,"r":23,"v":1},{"c":19,"r":23,"v":1},{"c":20,"r":23,"v":1},{"c":21,"r":23,"v":1},{"c":22,"r":23,"v":0},{"c":23,"r":23,"v":0},{"c":24,"r":23,"v":1},{"c":25,"r":23,"v":2},{"c":26,"r":23,"v":3},{"c":27,"r":23,"v":2},{"c":28,"r":23,"v":2},
{"c":0,"r":24,"v":2},{"c":1,"r":24,"v":3},{"c":2,"r":24,"v":2},{"c":3,"r":24,"v":2},{"c":4,"r":24,"v":2},{"c":5,"r":24,"v":1},{"c":6,"r":24,"v":1},{"c":7,"r":24,"v":3},{"c":8,"r":24,"v":2},{"c":9,"r":24,"v":2},{"c":10,"r":24,"v":3},{"c":11,"r":24,"v":2},{"c":12,"r":24,"v":2},{"c":13,"r":24,"v":2},{"c":14,"r":24,"v":3},{"c":15,"r":24,"v":2},{"c":16,"r":24,"v":2},{"c":17,"r":24,"v":3},{"c":18,"r":24,"v":1},{"c":19,"r":24,"v":0},{"c":20,"r":24,"v":1},{"c":21,"r":24,"v":1},{"c":22,"r":24,"v":1},{"c":23,"r":24,"v":1},{"c":24,"r":24,"v":0},{"c":25,"r":24,"v":0},{"c":26,"r":24,"v":2},{"c":27,"r":24,"v":3},{"c":28,"r":24,"v":2},
{"c":0,"r":25,"v":0},{"c":1,"r":25,"v":1},{"c":2,"r":25,"v":3},{"c":3,"r":25,"v":3},{"c":4,"r":25,"v":2},{"c":5,"r":25,"v":0},{"c":6,"r":25,"v":0},{"c":7,"r":25,"v":0},{"c":8,"r":25,"v":2},{"c":9,"r":25,"v":2},{"c":10,"r":25,"v":3},{"c":11,"r":25,"v":2},{"c":12,"r":25,"v":3},{"c":13,"r":25,"v":3},{"c":14,"r":25,"v":2},{"c":15,"r":25,"v":2},{"c":16,"r":25,"v":3},{"c":17,"r":25,"v":3},{"c":18,"r":25,"v":1},{"c":19,"r":25,"v":0},{"c":20,"r":25,"v":1},{"c":21,"r":25,"v":0},{"c":22,"r":25,"v":0},{"c":23,"r":25,"v":0},{"c":24,"r":25,"v":0},{"c":25,"r":25,"v":0},{"c":26,"r":25,"v":0},{"c":27,"r":25,"v":0},{"c":28,"r":25,"v":0},
{"c":0,"r":26,"v":0},{"c":1,"r":26,"v":1},{"c":2,"r":26,"v":1},{"c":3,"r":26,"v":2},{"c":4,"r":26,"v":0},{"c":5,"r":26,"v":0},{"c":6,"r":26,"v":1},{"c":7,"r":26,"v":1},{"c":8,"r":26,"v":2},{"c":9,"r":26,"v":2},{"c":10,"r":26,"v":2},{"c":11,"r":26,"v":3},{"c":12,"r":26,"v":3},{"c":13,"r":26,"v":2},{"c":14,"r":26,"v":2},{"c":15,"r":26,"v":2},{"c":16,"r":26,"v":2},{"c":17,"r":26,"v":3},{"c":18,"r":26,"v":1},{"c":19,"r":26,"v":0},{"c":20,"r":26,"v":0},{"c":21,"r":26,"v":0},{"c":22,"r":26,"v":1},{"c":23,"r":26,"v":0},{"c":24,"r":26,"v":1},{"c":25,"r":26,"v":0},{"c":26,"r":26,"v":0},{"c":27,"r":26,"v":0},{"c":28,"r":26,"v":1},
{"c":0,"r":27,"v":0},{"c":1,"r":27,"v":1},{"c":2,"r":27,"v":0},{"c":3,"r":27,"v":1},{"c":4,"r":27,"v":0},{"c":5,"r":27,"v":0},{"c":6,"r":27,"v":1},{"c":7,"r":27,"v":0},{"c":8,"r":27,"v":1},{"c":9,"r":27,"v":2},{"c":10,"r":27,"v":3},{"c":11,"r":27,"v":2},{"c":12,"r":27,"v":3},{"c":13,"r":27,"v":3},{"c":14,"r":27,"v":3},{"c":15,"r":27,"v":2},{"c":16,"r":27,"v":2},{"c":17,"r":27,"v":3},{"c":18,"r":27,"v":3},{"c":19,"r":27,"v":0},{"c":20,"r":27,"v":1},{"c":21,"r":27,"v":0},{"c":22,"r":27,"v":0},{"c":23,"r":27,"v":0},{"c":24,"r":27,"v":1},{"c":25,"r":27,"v":0},{"c":26,"r":27,"v":1},{"c":27,"r":27,"v":0},{"c":28,"r":27,"v":1},
{"c":0,"r":28,"v":0},{"c":1,"r":28,"v":1},{"c":2,"r":28,"v":1},{"c":3,"r":28,"v":1},{"c":4,"r":28,"v":1},{"c":5,"r":28,"v":1},{"c":6,"r":28,"v":1},{"c":7,"r":28,"v":0},{"c":8,"r":28,"v":0},{"c":9,"r":28,"v":1},{"c":10,"r":28,"v":0},{"c":11,"r":28,"v":3},{"c":12,"r":28,"v":3},{"c":13,"r":28,"v":2},{"c":14,"r":28,"v":3},{"c":15,"r":28,"v":3},{"c":16,"r":28,"v":2},{"c":17,"r":28,"v":2},{"c":18,"r":28,"v":2},{"c":19,"r":28,"v":1},{"c":20,"r":28,"v":1},{"c":21,"r":28,"v":1},{"c":22,"r":28,"v":0},{"c":23,"r":28,"v":1},{"c":24,"r":28,"v":2},{"c":25,"r":28,"v":3},{"c":26,"r":28,"v":1},{"c":27,"r":28,"v":1},{"c":28,"r":28,"v":0},
{"c":0,"r":29,"v":0},{"c":1,"r":29,"v":1},{"c":2,"r":29,"v":1},{"c":3,"r":29,"v":0},{"c":4,"r":29,"v":0},{"c":5,"r":29,"v":1},{"c":6,"r":29,"v":0},{"c":7,"r":29,"v":1},{"c":8,"r":29,"v":0},{"c":9,"r":29,"v":0},{"c":10,"r":29,"v":1},{"c":11,"r":29,"v":1},{"c":12,"r":29,"v":3},{"c":13,"r":29,"v":2},{"c":14,"r":29,"v":3},{"c":15,"r":29,"v":3},{"c":16,"r":29,"v":2},{"c":17,"r":29,"v":3},{"c":18,"r":29,"v":1},{"c":19,"r":29,"v":1},{"c":20,"r":29,"v":1},{"c":21,"r":29,"v":1},{"c":22,"r":29,"v":1},{"c":23,"r":29,"v":2},{"c":24,"r":29,"v":3},{"c":25,"r":29,"v":3},{"c":26,"r":29,"v":3},{"c":27,"r":29,"v":0},{"c":28,"r":29,"v":1}
]},"mark":{"type":"rect","strokeWidth":1,"opacity":1},"encoding":{"x":{"field":"c","type":"ordinal","axis":null},"y":{"field":"r","type":"ordinal","axis":null},"color":{"field":"v","type":"nominal","legend":null,"scale":{"domain":[0,1,2,3],"range":["#00007f","#0000bb","#800000","#b20000"]}},"stroke":{"field":"v","type":"nominal","legend":null,"scale":{"domain":[0,1,2,3],"range":["#00007f","#0000bb","#800000","#b20000"]}}}}],"spacing":53,"align":"none"},{"hconcat":[{"title":{"text":"(C)","dx":-3,"offset":4},"width":497,"height":378,"view":{"fill":"#cccccc","stroke":null},"resolve":{"axis":{"x":"independent","y":"independent"}},"layer":[{"data":{"values":[{}]},"mark":{"type":"rect","color":"white","stroke":"#333333","strokeWidth":1.5},"encoding":{"x":{"datum":0,"type":"quantitative","scale":{"domain":[-0.746,10.593],"nice":false,"zero":false},"axis":{"orient":"top","offset":-11.7,"title":null,"labels":false,"domain":false,"tickColor":"#333","tickSize":-4,"values":[0,1,2,3,4,5,6,7,8,9,10],"grid":false,"zindex":1}},"x2":{"datum":10},"y":{"datum":0.5,"type":"quantitative","scale":{"domain":[0.49574,0.57237],"nice":false,"zero":false},"axis":{"orient":"right","offset":-26,"title":null,"labels":false,"domain":false,"tickColor":"#333","tickSize":-4,"values":[0.5,0.51,0.52,0.53,0.54,0.55,0.56,0.57],"grid":false,"zindex":1}},"y2":{"datum":0.57}}},{"data":{"values":[{"t":0,"s":0.5045},{"t":0.01,"s":0.508},{"t":0.02,"s":0.5115},{"t":0.03,"s":0.5155},{"t":0.05,"s":0.5235},{"t":0.07,"s":0.5275},{"t":0.09,"s":0.531},{"t":0.11,"s":0.5345},{"t":0.13,"s":0.5335},{"t":0.15,"s":0.5445},{"t":0.167,"s":0.5465},{"t":0.2,"s":0.5467},{"t":0.245,"s":0.5488},{"t":0.26,"s":0.5455},{"t":0.28,"s":0.5445},{"t":0.32,"s":0.5433},{"t":0.36,"s":0.545},{"t":0.4,"s":0.5455},{"t":0.43,"s":0.5466},{"t":0.47,"s":0.5488},{"t":0.51,"s":0.5478},{"t":0.55,"s":0.55},{"t":0.59,"s":0.5488},{"t":0.64,"s":0.551},{"t":0.74,"s":0.5522},{"t":0.81,"s":0.551},{"t":0.84,"s":0.55},{"t":1.36,"s":0.5488},{"t":1.61,"s":0.55},{"t":2.45,"s":0.551},{"t":3.33,"s":0.55},{"t":4.08,"s":0.5488},{"t":4.12,"s":0.5477},{"t":4.14,"s":0.5465},{"t":5.26,"s":0.5477},{"t":5.75,"s":0.5488},{"t":6.43,"s":0.5477},{"t":6.57,"s":0.5465},{"t":6.71,"s":0.5454},{"t":7.15,"s":0.5445},{"t":7.95,"s":0.5432},{"t":8.43,"s":0.5421},{"t":8.46,"s":0.5409},{"t":8.49,"s":0.5399},{"t":8.58,"s":0.5388},{"t":8.67,"s":0.5377},{"t":9.1,"s":0.5388},{"t":9.64,"s":0.5377},{"t":10,"s":0.5377}]},"mark":{"type":"line","interpolate":"step-after","color":"#1414ff","strokeWidth":1.2},"encoding":{"x":{"field":"t","type":"quantitative","scale":{"domain":[-0.746,10.593],"nice":false,"zero":false},"axis":{"orient":"bottom","offset":-21,"title":null,"values":[0,1,2,3,4,5,6,7,8,9,10],"grid":false,"domain":false,"tickColor":"#333","tickSize":-4,"labelPadding":9,"labelFont":"Liberation Sans","labelFontSize":13,"labelColor":"#222","labelOverlap":false,"zindex":1}},"y":{"field":"s","type":"quantitative","scale":{"domain":[0.49574,0.57237],"nice":false,"zero":false},"axis":{"orient":"left","offset":-32.7,"title":null,"values":[0.5,0.51,0.52,0.53,0.54,0.55,0.56,0.57],"format":".2~f","grid":false,"domain":false,"tickColor":"#333","tickSize":-4,"labelPadding":9,"labelFont":"Liberation Sans","labelFontSize":13,"labelColor":"#222","labelOverlap":false,"zindex":1}}}}]},{"title":{"text":"(D)","dx":-3,"offset":4},"width":448,"height":378,"view":{"fill":"#cccccc","stroke":null},"resolve":{"axis":{"x":"independent","y":"independent"}},"layer":[{"data":{"values":[{}]},"mark":{"type":"rect","color":"white","stroke":"#333333","strokeWidth":1.5},"encoding":{"x":{"datum":0,"type":"quantitative","scale":{"domain":[-0.8825,10.3175],"nice":false,"zero":false},"axis":{"orient":"top","offset":-8.3,"title":null,"labels":false,"domain":false,"tickColor":"#333","tickSize":-4,"values":[0,1,2,3,4,5,6,7,8,9,10],"grid":false,"zindex":1}},"x2":{"datum":10},"y":{"datum":0.505,"type":"quantitative","scale":{"domain":[0.50194,0.55619],"nice":false,"zero":false},"axis":{"orient":"right","offset":-12.7,"title":null,"labels":false,"domain":false,"tickColor":"#333","tickSize":-4,"values":[0.505,0.51,0.515,0.52,0.525,0.53,0.535,0.54,0.545,0.55,0.555],"grid":false,"zindex":1}},"y2":{"datum":0.555}}},{"data":{"values":[{"t":0,"s":0.506},{"t":0.01,"s":0.512},{"t":0.02,"s":0.5165},{"t":0.03,"s":0.5195},{"t":0.04,"s":0.5255},{"t":0.05,"s":0.521},{"t":0.06,"s":0.5255},{"t":0.07,"s":0.53},{"t":0.09,"s":0.5345},{"t":0.1,"s":0.535},{"t":0.11,"s":0.5335},{"t":0.12,"s":0.5378},{"t":0.13,"s":0.5367},{"t":0.14,"s":0.5422},{"t":0.167,"s":0.549},{"t":0.18,"s":0.55},{"t":0.19,"s":0.541},{"t":0.21,"s":0.5456},{"t":0.25,"s":0.5433},{"t":0.258,"s":0.5467},{"t":0.267,"s":0.5433},{"t":0.31,"s":0.5422},{"t":0.35,"s":0.5456},{"t":0.375,"s":0.5467},{"t":0.4,"s":0.5456},{"t":0.42,"s":0.5467},{"t":0.44,"s":0.5456},{"t":0.517,"s":0.5478},{"t":0.625,"s":0.5467},{"t":0.71,"s":0.5456},{"t":0.775,"s":0.5444},{"t":0.8,"s":0.5433},{"t":0.81,"s":0.5422},{"t":0.95,"s":0.5433},{"t":10,"s":0.5433}]},"mark":{"type":"line","interpolate":"step-after","color":"#1414ff","strokeWidth":1.2},"encoding":{"x":{"field":"t","type":"quantitative","scale":{"domain":[-0.8825,10.3175],"nice":false,"zero":false},"axis":{"orient":"bottom","offset":-21.3,"title":null,"values":[0,1,2,3,4,5,6,7,8,9,10],"grid":false,"domain":false,"tickColor":"#333","tickSize":-4,"labelPadding":9,"labelFont":"Liberation Sans","labelFontSize":13,"labelColor":"#222","labelOverlap":false,"zindex":1}},"y":{"field":"s","type":"quantitative","scale":{"domain":[0.50194,0.55619],"nice":false,"zero":false},"axis":{"orient":"left","offset":-35.3,"title":null,"values":[0.505,0.51,0.515,0.52,0.525,0.53,0.535,0.54,0.545,0.55,0.555],"format":".3~f","grid":false,"domain":false,"tickColor":"#333","tickSize":-4,"labelPadding":9,"labelFont":"Liberation Sans","labelFontSize":13,"labelColor":"#222","labelOverlap":false,"zindex":1}}}}]}],"spacing":46,"align":"none"}],"spacing":3,"align":"none"}
